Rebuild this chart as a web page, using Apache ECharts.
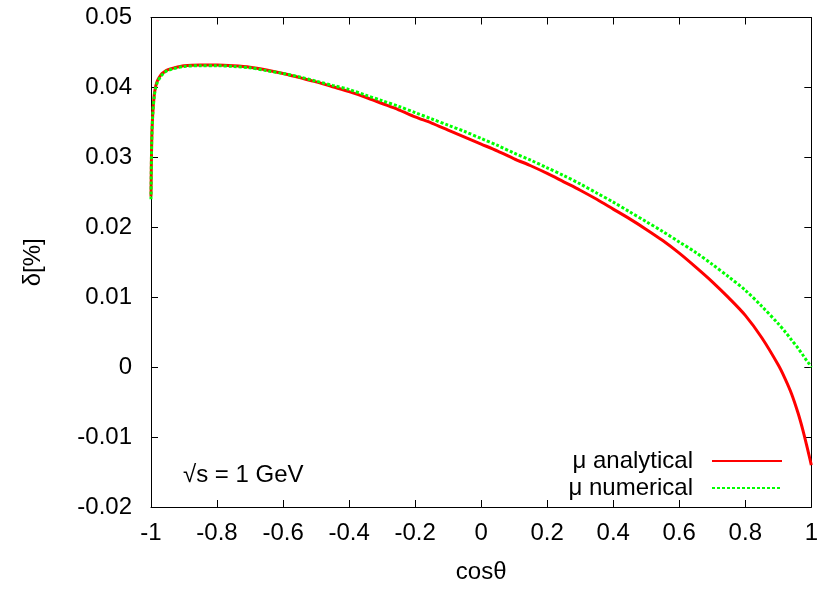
<!DOCTYPE html>
<html>
<head>
<meta charset="utf-8">
<script src="https://cdn.jsdelivr.net/npm/echarts@6/dist/echarts.min.js"></script>
<style>
html,body{margin:0;padding:0;background:#fff;}
#chart{width:821px;height:589px;}
</style>
</head>
<body>
<div id="chart"></div>
<script>
// cos(theta) sample points
const cosTheta = [-1, -0.998, -0.995, -0.99, -0.985, -0.98, -0.97, -0.96, -0.95, -0.93, -0.9, -0.85, -0.8, -0.75,
  -0.7, -0.65, -0.6, -0.55, -0.5, -0.45, -0.4, -0.35, -0.3, -0.25, -0.2, -0.15, -0.1, -0.05, 0,
  0.05, 0.1, 0.15, 0.2, 0.25, 0.3, 0.35, 0.4, 0.45, 0.5, 0.55, 0.6, 0.65, 0.7, 0.75, 0.8, 0.85, 0.9,
  0.92, 0.94, 0.96, 0.975, 0.985, 0.993, 1.0];
// delta [%] analytical
const muAnalytical = [0.0244, 0.0320, 0.0360, 0.0390, 0.0403, 0.0410, 0.0418, 0.0422, 0.0425, 0.0428, 0.0431, 0.0432, 0.0432, 0.0431,
  0.0429, 0.0425, 0.0420, 0.0414, 0.0408, 0.0401, 0.0394, 0.0386, 0.0377, 0.0368, 0.0358, 0.0349, 0.0339, 0.0329, 0.0319,
  0.0309, 0.0298, 0.0288, 0.0277, 0.0265, 0.0253, 0.0240, 0.0226, 0.0212, 0.0197, 0.0181, 0.0163, 0.0143, 0.0122, 0.0099, 0.0074, 0.0042, 0.0003,
  -0.0016, -0.0038, -0.0066, -0.0091, -0.0110, -0.0126, -0.0140];
// delta [%] numerical
const muNumerical = [0.0240, 0.0318, 0.0358, 0.0388, 0.0401, 0.0408, 0.0416, 0.0421, 0.0424, 0.0427, 0.0430, 0.0431, 0.0431, 0.0430,
  0.0428, 0.0424, 0.0420, 0.0415, 0.0409, 0.0403, 0.0397, 0.0389, 0.0381, 0.0373, 0.0364, 0.0355, 0.0346, 0.0337, 0.0327,
  0.0317, 0.0306, 0.0296, 0.0285, 0.0274, 0.0262, 0.0249, 0.0236, 0.0222, 0.0208, 0.0194, 0.0179, 0.0164, 0.0147, 0.0129, 0.0110, 0.0087, 0.0062,
  0.0051, 0.0039, 0.0027, 0.0017, 0.0010, 0.0005, 0.0000];
const seriesNames = ['\u03bc analytical', '\u03bc numerical'];
const xTicks = { min: -1, max: 1, interval: 0.2 };
const yTicks = { min: -0.02, max: 0.05, interval: 0.01 };
const annotation = '\u221as = 1 GeV';

const FONT = '"Liberation Sans", Arial, Helvetica, sans-serif';
const FS = 24;
const pairs = (ys) => cosTheta.map((x, i) => [x, ys[i]]);

const chart = echarts.init(document.getElementById('chart'), null, {renderer: 'canvas'});
const baseAxisX = {
  type: 'value', min: xTicks.min, max: xTicks.max, interval: xTicks.interval,
  axisLine: {show: true, onZero: false, lineStyle: {color: '#000', width: 1}},
  axisTick: {show: true, inside: true, length: 7, lineStyle: {color: '#000'}},
  splitLine: {show: false}
};
const baseAxisY = {
  type: 'value', min: yTicks.min, max: yTicks.max, interval: yTicks.interval,
  axisLine: {show: true, onZero: false, lineStyle: {color: '#000', width: 1}},
  axisTick: {show: true, inside: true, length: 7, lineStyle: {color: '#000'}},
  splitLine: {show: false}
};
chart.setOption({
  animation: false,
  backgroundColor: '#fff',
  grid: {left: 151, right: 8, top: 17.5, bottom: 81.5, containLabel: false},
  xAxis: [
    Object.assign({}, baseAxisX, {
      position: 'bottom',
      name: 'cos\u03b8', nameLocation: 'middle', nameGap: 53,
      nameTextStyle: {color: '#000', fontSize: FS, fontFamily: FONT},
      axisLabel: {color: '#000', fontSize: FS, fontFamily: FONT, margin: 14}
    }),
    Object.assign({}, baseAxisX, {position: 'top', axisLabel: {show: false}})
  ],
  yAxis: [
    Object.assign({}, baseAxisY, {
      position: 'left',
      name: '\u03b4[%]', nameLocation: 'middle', nameGap: 106, nameRotate: 90,
      nameTextStyle: {color: '#000', fontSize: FS, fontFamily: FONT},
      axisLabel: {color: '#000', fontSize: FS, fontFamily: FONT, margin: 19}
    }),
    Object.assign({}, baseAxisY, {position: 'right', axisLabel: {show: false}})
  ],
  legend: {
    orient: 'vertical', align: 'right', right: 33, top: 444,
    itemWidth: 70, itemHeight: 14, itemGap: 3,
    itemStyle: {color: 'transparent', borderWidth: 0, opacity: 0},
    textStyle: {color: '#000', fontSize: FS, fontFamily: FONT, lineHeight: 24, padding: [0, 14, 0, 0]},
    data: seriesNames
  },
  graphic: [{
    type: 'text', left: 183, top: 463,
    style: {text: annotation, fill: '#000', font: FS + 'px ' + FONT}
  }],
  series: [
    {
      name: seriesNames[0], type: 'line', data: pairs(muAnalytical),
      symbol: 'none', smooth: 0.3,
      lineStyle: {color: '#ff0000', width: 3}, itemStyle: {color: '#ff0000'}
    },
    {
      name: seriesNames[1], type: 'line', data: pairs(muNumerical),
      symbol: 'none', smooth: 0.3,
      lineStyle: {color: '#00ff00', width: 3, type: [3, 2]}, itemStyle: {color: '#00ff00'}
    }
  ]
});
</script>
</body>
</html>
